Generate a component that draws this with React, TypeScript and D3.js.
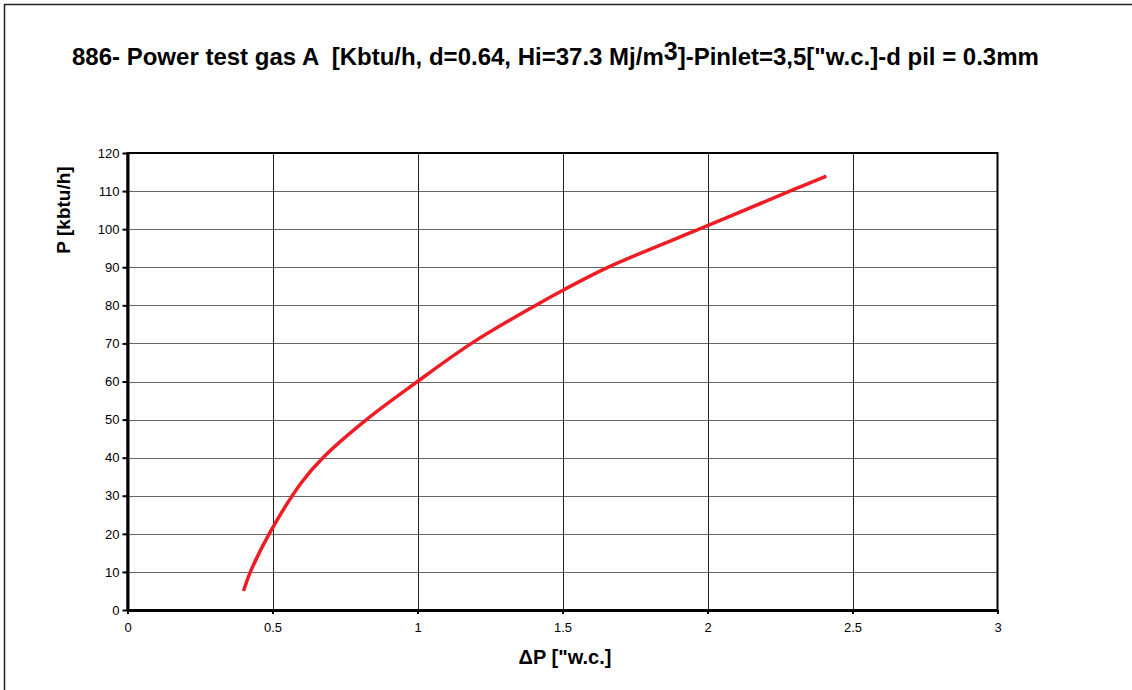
import React, { useEffect, useRef } from 'react';
import * as d3 from 'd3';

// measured points of the power curve (ΔP in "w.c., P in kbtu/h)
const deltaP = [0.4, 0.427, 0.49, 0.6, 0.674, 0.824, 1.0, 1.19, 1.41, 1.5, 1.66, 2.0, 2.3, 2.41];
const power = [5, 10.6, 20.2, 33.5, 40, 50, 60, 70.2, 80.1, 83.9, 90.1, 100.9, 110.5, 113.9];

const xTicks = [0, 0.5, 1, 1.5, 2, 2.5, 3];
const yTicks = [0, 10, 20, 30, 40, 50, 60, 70, 80, 90, 100, 110, 120];

const W = 1132;
const H = 690;

const App: React.FC = () => {
  const svgRef = useRef<SVGSVGElement>(null);

  useEffect(() => {
    if (!svgRef.current) return;
    const svg = d3.select(svgRef.current);
    svg.selectAll('*').remove();

    const left = 127.5;
    const right = 997.5;
    const top = 153;
    const bottom = 610;
    const font = '"Liberation Sans", Arial, sans-serif';

    const x = d3.scaleLinear().domain([0, 3]).range([left, right]);
    const y = d3.scaleLinear().domain([0, 120]).range([bottom, top]);

    // outer chart frame (runs off the right and bottom edges)
    svg.append('rect')
      .attr('x', 4.5).attr('y', 4.5)
      .attr('width', W + 20).attr('height', H + 20)
      .attr('fill', '#fff')
      .attr('stroke', '#222')
      .attr('stroke-width', 1.5);

    // title
    const title = svg.append('text')
      .attr('x', 72).attr('y', 65)
      .attr('font-family', font)
      .attr('font-size', 24)
      .attr('font-weight', 'bold')
      .attr('fill', '#000')
      .style('white-space', 'pre');
    title.append('tspan').text('886- Power test gas A  [Kbtu/h, d=0.64, Hi=37.3 Mj/m');
    title.append('tspan').attr('dy', -5).attr('font-size', 25).text('3');
    title.append('tspan').attr('dy', 5).text(']-Pinlet=3,5["w.c.]-d pil = 0.3mm');

    // horizontal grid
    svg.append('g')
      .selectAll('line')
      .data(yTicks.slice(1, -1))
      .enter()
      .append('line')
      .attr('x1', left).attr('x2', right)
      .attr('y1', d => Math.round(y(d)) + 0.5)
      .attr('y2', d => Math.round(y(d)) + 0.5)
      .attr('stroke', '#666')
      .attr('stroke-width', 1);

    // vertical grid
    svg.append('g')
      .selectAll('line')
      .data(xTicks.slice(1, -1))
      .enter()
      .append('line')
      .attr('x1', d => Math.round(x(d)) + 0.5)
      .attr('x2', d => Math.round(x(d)) + 0.5)
      .attr('y1', top).attr('y2', bottom)
      .attr('stroke', '#222')
      .attr('stroke-width', 1);

    // plot border
    svg.append('rect')
      .attr('x', left).attr('y', top)
      .attr('width', right - left).attr('height', bottom - top)
      .attr('fill', 'none')
      .attr('stroke', '#000')
      .attr('stroke-width', 2);

    // axes
    const yAxis = d3.axisLeft(y).tickValues(yTicks).tickSize(5).tickSizeOuter(0).tickPadding(3)
      .tickFormat(d => String(d));
    const gy = svg.append('g').attr('transform', `translate(${left},0)`).call(yAxis);
    gy.select('.domain').attr('stroke', '#000').attr('stroke-width', 3);
    gy.selectAll('.tick line').attr('stroke', '#000').attr('stroke-width', 2);
    gy.selectAll('.tick text').attr('font-family', font).attr('font-size', 13).attr('fill', '#000');

    const xAxis = d3.axisBottom(x).tickValues(xTicks).tickSize(4).tickSizeOuter(0).tickPadding(9)
      .tickFormat(d => String(d));
    const gx = svg.append('g').attr('transform', `translate(0,${bottom})`).call(xAxis);
    gx.select('.domain').attr('stroke', '#000').attr('stroke-width', 3);
    gx.selectAll('.tick line').attr('stroke', '#000').attr('stroke-width', 2);
    gx.selectAll('.tick text').attr('font-family', font).attr('font-size', 13).attr('fill', '#000');

    // axis titles
    svg.append('text')
      .attr('x', 565).attr('y', 664)
      .attr('text-anchor', 'middle')
      .attr('font-family', font)
      .attr('font-size', 20)
      .attr('font-weight', 'bold')
      .text('ΔP ["w.c.]');

    svg.append('text')
      .attr('transform', 'translate(70,210) rotate(-90)')
      .attr('text-anchor', 'middle')
      .attr('font-family', font)
      .attr('font-size', 19)
      .attr('font-weight', 'bold')
      .text('P [kbtu/h]');

    // curve
    const pts: [number, number][] = deltaP.map((d, i) => [d, power[i]]);
    const line = d3.line<[number, number]>()
      .x(d => x(d[0]))
      .y(d => y(d[1]))
      .curve(d3.curveCatmullRom.alpha(0.5));

    svg.append('path')
      .datum(pts)
      .attr('d', line)
      .attr('fill', 'none')
      .attr('stroke', '#ee1c25')
      .attr('stroke-width', 3.5);
  }, []);

  return (
    <div style={{ position: 'absolute', left: 0, top: 0, width: W, height: H, overflow: 'hidden' }}>
      <svg ref={svgRef} width={W} height={H} style={{ display: 'block' }} />
    </div>
  );
};

export default App;
